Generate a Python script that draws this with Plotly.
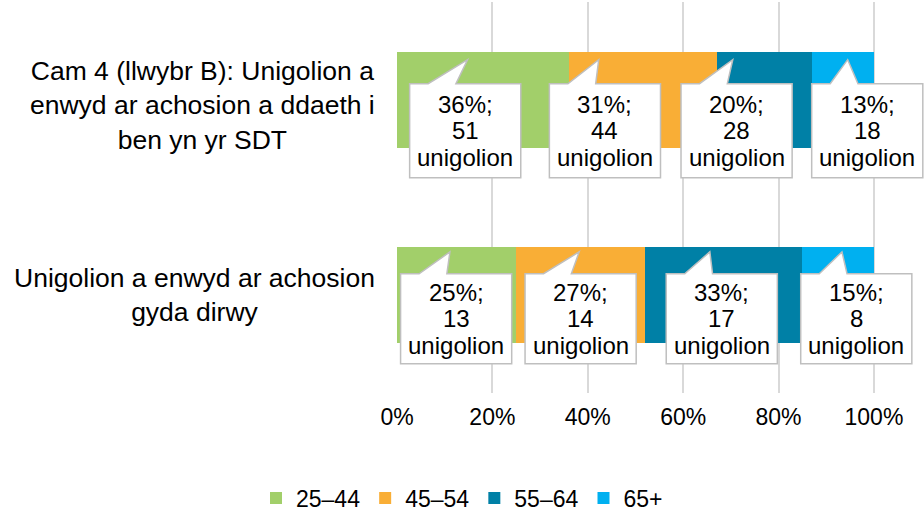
import plotly.graph_objects as go

# categories (line breaks as in the original chart)
categories = [
    "Cam 4 (llwybr B): Unigolion a<br>enwyd ar achosion a ddaeth i<br>ben yn yr SDT",
    "Unigolion a enwyd ar achosion<br>gyda dirwy",
]
age_groups = ["25–44", "45–54", "55–64", "65+"]

# percentage share per age group, one list per category
shares_cam4 = [36, 31, 20, 13]
shares_dirwy = [25, 27, 33, 15]
# number of people per age group
counts_cam4 = [51, 44, 28, 18]
counts_dirwy = [13, 14, 17, 8]

tick_vals = [0, 20, 40, 60, 80, 100]
tick_text = ["0%", "20%", "40%", "60%", "80%", "100%"]

shares = [shares_cam4, shares_dirwy]
counts = [counts_cam4, counts_dirwy]

colors = ["#A2CF6A", "#F9AE36", "#0080A6", "#00B0F0"]
font = "Liberation Sans, Arial, sans-serif"

# callout placement (in % units): box centre relative to segment centre,
# pointer tip relative to box centre
label_dx = [[-3.7, -7.9, -5.8, 5.1], [-0.1, 0.0, -0.4, 3.8]]
tip_dx = [[0.5, -1.3, -0.8, -4.1], [-1.3, -0.3, -2.5, -3.0]]
box_w = 23.3
# vertical placement per row (category units, relative to bar centre)
box_top = [-0.082, -0.110]
box_bot = [0.399, 0.350]
tip_y = [-0.205, -0.222]
line_gap = 26.5  # px between callout text lines
cat_yshift = [-6, 0]

fig = go.Figure()
for j, g in enumerate(age_groups):
    fig.add_trace(go.Bar(
        y=categories,
        x=[shares[i][j] for i in range(len(categories))],
        orientation="h",
        name=g,
        marker=dict(color=colors[j], line=dict(width=0)),
        hoverinfo="skip",
    ))

shapes = []
annotations = []
for i in range(len(categories)):
    start = 0
    for j in range(len(age_groups)):
        s = shares[i][j]
        cx = start + s / 2 + label_dx[i][j]
        left, right = cx - box_w / 2, cx + box_w / 2
        b1 = left + box_w / 6
        b2 = left + box_w * 5 / 12
        tip = cx + tip_dx[i][j]
        yt, yb, yp = i + box_top[i], i + box_bot[i], i + tip_y[i]
        path = (f"M {left},{yt} L {b1},{yt} L {tip},{yp} L {b2},{yt} "
                f"L {right},{yt} L {right},{yb} L {left},{yb} Z")
        shapes.append(dict(type="path", path=path, xref="x", yref="y",
                           fillcolor="white", line=dict(color="#BFBFBF", width=1.5),
                           layer="above"))
        lines = [f"{s}%;", f"{counts[i][j]}", "unigolion"]
        for k, t in enumerate(lines):
            annotations.append(dict(
                x=cx, y=i + (box_top[i] + box_bot[i]) / 2, xref="x", yref="y",
                yshift=(1 - k) * line_gap, text=t, showarrow=False,
                font=dict(family=font, size=24, color="#000000"),
            ))
        start += s

for i, c in enumerate(categories):
    annotations.append(dict(
        x=0, xref="paper", y=i, yref="y", xanchor="right", yanchor="middle",
        xshift=-20, yshift=cat_yshift[i], text=c, showarrow=False, align="center",
        font=dict(family=font, size=26.5, color="#000000"),
    ))

fig.update_layout(
    width=924, height=515,
    margin=dict(l=397, r=0, t=2, b=122),
    barmode="stack", bargap=0.51,
    plot_bgcolor="white", paper_bgcolor="white",
    font=dict(family=font, size=23, color="#000000"),
    shapes=shapes, annotations=annotations,
    showlegend=True,
    legend=dict(orientation="h", x=0.5, xref="container", xanchor="center",
                y=0.033, yref="container", yanchor="middle",
                font=dict(family=font, size=23), traceorder="normal"),
    xaxis=dict(range=[0, 110.5], tickvals=tick_vals, ticktext=tick_text,
               showgrid=True, gridcolor="#D9D9D9", gridwidth=1.5, zeroline=False,
               showline=False, ticks="", tickfont=dict(family=font, size=23),
               ticklabelstandoff=8),
    yaxis=dict(type="category", categoryarray=categories, range=[1.5, -0.5],
               showticklabels=False, showgrid=False, zeroline=False, showline=False),
)

fig.write_html("out.html", config={"displayModeBar": False},
               post_script="document.body.style.margin='0';")
